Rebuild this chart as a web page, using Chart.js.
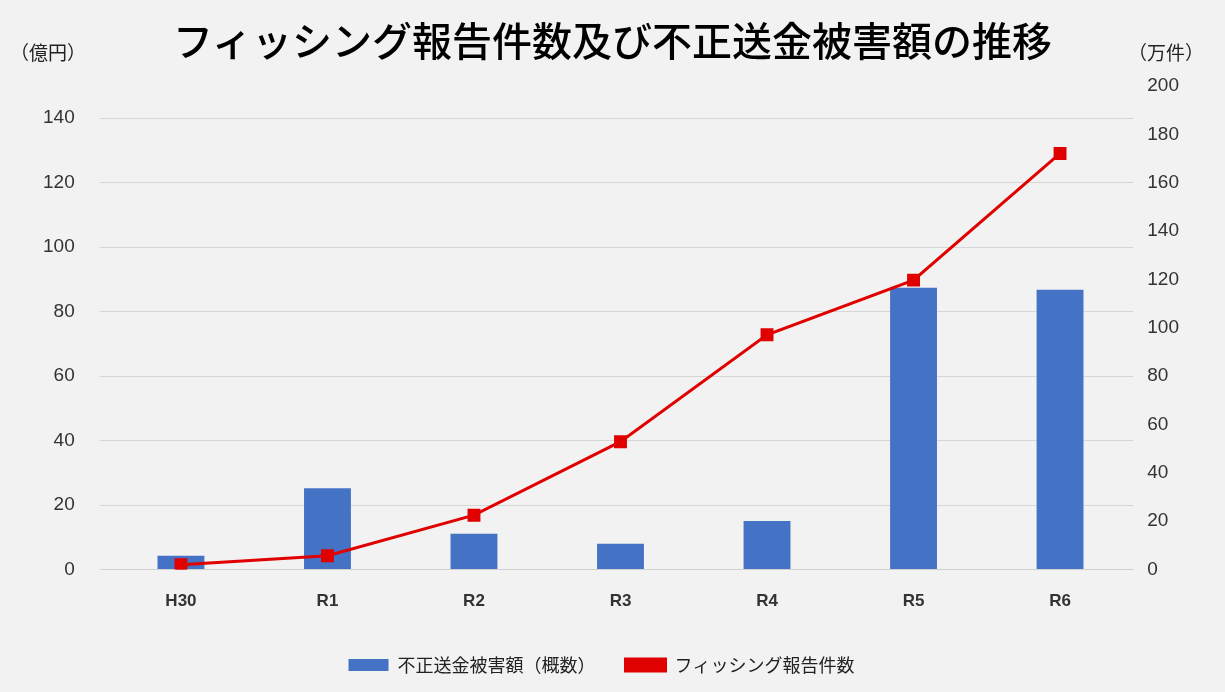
<!DOCTYPE html>
<html><head><meta charset="utf-8">
<script src="https://cdn.jsdelivr.net/npm/chart.js@4/dist/chart.umd.min.js"></script>
<style>
body{margin:0;background:#f2f2f2;font-family:"Noto Sans CJK JP",sans-serif;}
#wrap{position:relative;width:1225px;height:692px;}
#title{position:absolute;left:0;width:1225px;top:10px;text-align:center;font-size:40px;font-weight:500;color:#000;}
.unit{position:absolute;top:38px;font-size:19px;color:#222;}
canvas{position:absolute;left:0;top:0;}
</style></head><body>
<div id="wrap">
<canvas id="c" width="1225" height="692"></canvas>
<div id="title">フィッシング報告件数及び不正送金被害額の推移</div>
<div class="unit" style="left:10px">（億円）</div>
<div class="unit" style="left:1128px">（万件）</div>
</div>
<script>
const categories=["H30","R1","R2","R3","R4","R5","R6"];
const damage=[4.3,25.2,11.1,8.0,15.1,87.4,86.8];
const reports=[2.0,5.7,22.5,52.9,97.1,119.7,172.1];
new Chart(document.getElementById('c'),{
 data:{labels:categories,datasets:[
  {type:'line',label:'フィッシング報告件数',data:reports,yAxisID:'y2',borderColor:'#e00000',backgroundColor:'#e00000',borderWidth:3,pointStyle:'rect',pointRadius:7,pointHoverRadius:7,order:0},
  {type:'bar',label:'不正送金被害額（概数）',data:damage,yAxisID:'y',backgroundColor:'#4472c4',barPercentage:0.32,categoryPercentage:1,order:1}
 ]},
 options:{responsive:false,animation:false,
  layout:{padding:{top:86,left:18,right:40,bottom:8}},
  plugins:{legend:{position:'bottom',labels:{font:{size:18,family:'Noto Sans CJK JP'},color:'#222',boxWidth:40,boxHeight:12,padding:30,
     generateLabels:(ch)=>{const l=Chart.defaults.plugins.legend.labels.generateLabels(ch);return l.reverse().map(x=>{if(x.text.startsWith('フィ')){x.pointStyle='line';x.lineWidth=3;}return x;});}}},tooltip:{enabled:false}},
  scales:{
   x:{grid:{display:false},border:{color:'#d0d0d0'},ticks:{font:{size:17,weight:'bold'},color:'#333',padding:14}},
   y:{position:'left',min:0,max:150,afterBuildTicks:a=>{a.ticks=a.ticks.filter(t=>t.value<=140);},ticks:{stepSize:20,font:{size:19,weight:500},color:'#333',padding:25},grid:{color:'#d6d6d6'},border:{display:false}},
   y2:{position:'right',min:0,max:200,ticks:{stepSize:20,font:{size:19,weight:500},color:'#333',padding:6},grid:{display:false},border:{display:false}}
  }}
});
</script></body></html>
